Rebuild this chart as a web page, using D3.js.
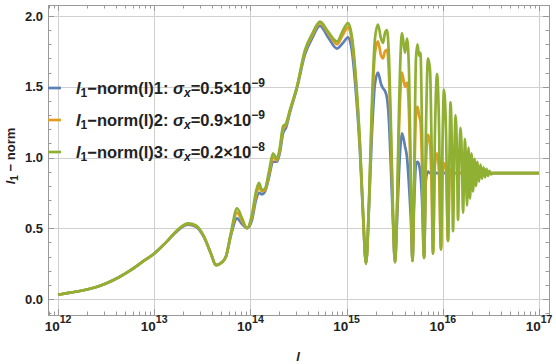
<!DOCTYPE html>
<html>
<head>
<meta charset="utf-8">
<script src="https://cdn.jsdelivr.net/npm/d3@7"></script>
<style>
  body { margin: 0; background: #fff; }
  text { font-family: "Liberation Sans", Arial, sans-serif; font-weight: bold; fill: #222; }
</style>
</head>
<body>
<div id="chart"></div>
<script>
// log10(l) sample positions
const logL = [
  12.000, 12.125, 12.249, 12.374, 12.499, 12.624, 12.748, 12.873, 12.998, 13.123,
  13.247, 13.351, 13.435, 13.518, 13.590, 13.642, 13.705, 13.746, 13.798, 13.861,
  13.913, 13.965, 14.017, 14.058, 14.089, 14.121, 14.152, 14.193, 14.235, 14.277,
  14.308, 14.339, 14.370, 14.412, 14.484, 14.568, 14.640, 14.723, 14.807, 14.900,
  14.963, 15.015, 15.056, 15.098, 15.139, 15.170, 15.202, 15.233, 15.264, 15.295,
  15.326, 15.358, 15.378, 15.399, 15.420, 15.441, 15.462, 15.482, 15.503, 15.524,
  15.545, 15.576, 15.607, 15.628, 15.649, 15.669, 15.685, 15.701, 15.721, 15.737,
  15.753, 15.768, 15.784, 15.805, 15.825, 15.846, 15.867, 15.883, 15.898, 15.919,
  15.940, 15.960, 15.981, 15.997, 16.012, 16.033, 16.054, 16.070, 16.080, 16.096,
  16.106, 16.120, 16.132, 16.148, 16.158, 16.172, 16.184, 16.200, 16.210, 16.231,
  16.252, 16.267, 16.283, 16.298, 16.314, 16.330, 16.345, 16.361, 16.376, 16.392,
  16.407, 16.423, 16.439, 16.454, 16.470, 16.485, 16.501, 16.522, 17.000
];

// l1-norm(l)1, sigma_x = 0.5e-9 (blue)
const norm1 = [
  0.03, 0.045, 0.06, 0.08, 0.11, 0.15, 0.20, 0.26, 0.32, 0.40,
  0.485, 0.525, 0.51, 0.435, 0.32, 0.24, 0.26, 0.30, 0.45, 0.57,
  0.53, 0.50, 0.56, 0.70, 0.75, 0.74, 0.76, 0.86, 0.97, 0.97,
  1.04, 1.17, 1.21, 1.32, 1.49, 1.73, 1.84, 1.93, 1.85, 1.77,
  1.81, 1.85, 1.75, 1.45, 1.04, 0.60, 0.25, 0.65, 1.18, 1.52,
  1.60, 1.52, 1.49, 1.47, 1.42, 1.25, 0.90, 0.55, 0.26, 0.55,
  0.90, 1.17, 1.08, 1.00, 0.80, 0.55, 0.27, 0.65, 0.95, 0.97,
  0.95, 0.88, 0.70, 0.29, 0.85, 0.90, 0.89, 0.89, 0.89, 0.89,
  0.89, 0.89, 0.89, 0.89, 0.89, 0.89, 0.89, 0.89, 0.89, 0.89,
  0.89, 0.89, 0.89, 0.89, 0.89, 0.89, 0.89, 0.89, 0.89, 0.89,
  0.89, 0.89, 0.89, 0.89, 0.89, 0.89, 0.89, 0.89, 0.89, 0.89,
  0.89, 0.89, 0.89, 0.89, 0.89, 0.89, 0.89, 0.89, 0.89
];

// l1-norm(l)2, sigma_x = 0.9e-9 (orange)
const norm2 = [
  0.03, 0.045, 0.06, 0.08, 0.11, 0.15, 0.20, 0.26, 0.32, 0.40,
  0.49, 0.53, 0.515, 0.44, 0.32, 0.24, 0.26, 0.30, 0.46, 0.61,
  0.55, 0.50, 0.58, 0.73, 0.79, 0.76, 0.77, 0.88, 1.00, 0.98,
  1.06, 1.20, 1.23, 1.33, 1.50, 1.75, 1.86, 1.95, 1.88, 1.80,
  1.87, 1.92, 1.82, 1.52, 1.08, 0.62, 0.25, 0.68, 1.32, 1.74,
  1.82, 1.72, 1.70, 1.75, 1.76, 1.58, 1.10, 0.60, 0.26, 0.62,
  1.20, 1.60, 1.50, 1.53, 1.30, 0.75, 0.27, 0.75, 1.30, 1.36,
  1.30, 1.25, 0.95, 0.29, 0.95, 1.16, 1.10, 0.80, 0.32, 0.95,
  1.03, 0.90, 0.35, 0.85, 0.96, 0.92, 0.41, 0.85, 0.92, 0.89,
  0.89, 0.89, 0.89, 0.89, 0.89, 0.89, 0.89, 0.89, 0.89, 0.89,
  0.89, 0.89, 0.89, 0.89, 0.89, 0.89, 0.89, 0.89, 0.89, 0.89,
  0.89, 0.89, 0.89, 0.89, 0.89, 0.89, 0.89, 0.89, 0.89
];

// l1-norm(l)3, sigma_x = 0.2e-8 (green)
const norm3 = [
  0.03, 0.045, 0.06, 0.08, 0.11, 0.15, 0.20, 0.26, 0.32, 0.40,
  0.49, 0.535, 0.52, 0.44, 0.32, 0.24, 0.26, 0.30, 0.47, 0.64,
  0.57, 0.50, 0.60, 0.76, 0.82, 0.77, 0.78, 0.90, 1.03, 0.99,
  1.08, 1.22, 1.24, 1.34, 1.50, 1.76, 1.87, 1.96, 1.89, 1.82,
  1.90, 1.95, 1.85, 1.55, 1.10, 0.63, 0.25, 0.70, 1.40, 1.84,
  1.94, 1.84, 1.81, 1.88, 1.90, 1.70, 1.20, 0.62, 0.26, 0.65,
  1.35, 1.88, 1.74, 1.84, 1.60, 0.80, 0.27, 0.80, 1.70, 1.80,
  1.72, 1.74, 1.20, 0.29, 1.20, 1.70, 1.62, 1.10, 0.32, 1.20,
  1.59, 1.25, 0.35, 1.10, 1.48, 1.20, 0.41, 1.05, 1.39, 1.00,
  0.48, 1.00, 1.30, 1.00, 0.56, 1.00, 1.21, 0.95, 0.61, 1.13,
  0.66, 1.07, 0.71, 1.03, 0.76, 0.99, 0.80, 0.97, 0.83, 0.95,
  0.85, 0.93, 0.86, 0.92, 0.87, 0.905, 0.88, 0.89, 0.89
];

const seriesNames = ["1", "2", "3"];
const sigmaMantissa = ["0.5", "0.9", "0.2"];
const sigmaExponent = ["\u22129", "\u22129", "\u22128"];
const colors = ["#5e81b5", "#e19c24", "#8fb032"];

const xTickExps = [12, 13, 14, 15, 16, 17];
const yTicks = [0, 0.5, 1, 1.5, 2];
const yTickLabels = ["0.0", "0.5", "1.0", "1.5", "2.0"];

const width = 556, height = 364;
const frame = { left: 48, right: 549, top: 5, bottom: 315 };

const xScale = d3.scaleLog().domain([1e12, 1e17]).range([58, 539]);
const yScale = d3.scaleLinear().domain([0, 2]).range([299, 16]);

const svg = d3.select("#chart").append("svg")
  .attr("width", width)
  .attr("height", height);

svg.append("rect").attr("width", width).attr("height", height).attr("fill", "#fff");

// grid
const grid = svg.append("g").attr("stroke", "#d0d0d0").attr("stroke-width", 1);
xTickExps.forEach(e => {
  const x = Math.round(xScale(Math.pow(10, e))) + 0.5;
  grid.append("line").attr("x1", x).attr("x2", x).attr("y1", frame.top).attr("y2", frame.bottom);
});
yTicks.forEach(v => {
  const y = Math.round(yScale(v)) + 0.5;
  grid.append("line").attr("x1", frame.left).attr("x2", frame.right).attr("y1", y).attr("y2", y);
});

// ticks on all four sides, pointing inward
const ticks = svg.append("g").attr("stroke", "#999").attr("stroke-width", 1);
const xMin = xScale.invert(frame.left), xMax = xScale.invert(frame.right);
for (let e = 11; e <= 17; e++) {
  for (let k = 1; k <= 9; k++) {
    const v = k * Math.pow(10, e);
    if (v < xMin || v > xMax) continue;
    const x = Math.round(xScale(v)) + 0.5;
    const len = k === 1 ? 6 : 3.5;
    ticks.append("line").attr("x1", x).attr("x2", x).attr("y1", frame.bottom).attr("y2", frame.bottom - len);
    ticks.append("line").attr("x1", x).attr("x2", x).attr("y1", frame.top).attr("y2", frame.top + len);
  }
}
for (let i = -1; i <= 20; i++) {
  const v = i / 10;
  const y = Math.round(yScale(v)) + 0.5;
  if (y > frame.bottom || y < frame.top) continue;
  const len = i % 5 === 0 ? 6 : 3.5;
  ticks.append("line").attr("x1", frame.left).attr("x2", frame.left + len).attr("y1", y).attr("y2", y);
  ticks.append("line").attr("x1", frame.right).attr("x2", frame.right - len).attr("y1", y).attr("y2", y);
}

// frame
svg.append("rect")
  .attr("x", frame.left + 0.5).attr("y", frame.top + 0.5)
  .attr("width", frame.right - frame.left).attr("height", frame.bottom - frame.top)
  .attr("fill", "none").attr("stroke", "#999").attr("stroke-width", 1);

// tick labels
yTicks.forEach((v, i) => {
  svg.append("text")
    .attr("x", 43).attr("y", yScale(v)).attr("dy", "0.36em")
    .attr("text-anchor", "end").attr("font-size", 13)
    .text(yTickLabels[i]);
});
xTickExps.forEach(e => {
  const t = svg.append("text")
    .attr("x", xScale(Math.pow(10, e))).attr("y", 331)
    .attr("text-anchor", "middle").attr("font-size", 13.5);
  t.append("tspan").text("10");
  t.append("tspan").attr("dy", -8).attr("font-size", 10.5).text(e);
});

// axis titles
svg.append("text")
  .attr("x", 298).attr("y", 361).attr("text-anchor", "middle")
  .attr("font-size", 13).attr("font-style", "italic").text("l");

const yt = svg.append("text")
  .attr("transform", "translate(15,156) rotate(-90)")
  .attr("text-anchor", "middle").attr("font-size", 13);
yt.append("tspan").attr("font-style", "italic").text("l");
yt.append("tspan").attr("dy", 3).attr("font-size", 10).text("1");
yt.append("tspan").attr("dy", -3).text(" \u2212 norm");

// curves
svg.append("clipPath").attr("id", "plotClip").append("rect")
  .attr("x", frame.left).attr("y", frame.top)
  .attr("width", frame.right - frame.left).attr("height", frame.bottom - frame.top);

const line = d3.line()
  .x(d => xScale(Math.pow(10, d[0])))
  .y(d => yScale(d[1]))
  .curve(d3.curveMonotoneX);

const plotG = svg.append("g").attr("clip-path", "url(#plotClip)");
[norm1, norm2, norm3].forEach((vals, i) => {
  plotG.append("path")
    .datum(logL.map((x, j) => [x, vals[j]]))
    .attr("d", line)
    .attr("fill", "none")
    .attr("stroke", colors[i])
    .attr("stroke-width", 2.7)
    .attr("stroke-linejoin", "round");
});

// legend
const legendY = [88, 120, 152];
seriesNames.forEach((name, i) => {
  const g = svg.append("g");
  g.append("line")
    .attr("x1", 48).attr("x2", 61).attr("y1", legendY[i]).attr("y2", legendY[i])
    .attr("stroke", colors[i]).attr("stroke-width", 2.7);
  const t = g.append("text").attr("x", 76).attr("y", legendY[i] + 6).attr("font-size", 16.5);
  t.append("tspan").attr("font-style", "italic").text("l");
  t.append("tspan").attr("dy", 3).attr("font-size", 12).text("1");
  t.append("tspan").attr("dy", -3).text("\u2212norm(l)" + name + ": ");
  t.append("tspan").attr("font-style", "italic").text("\u03c3");
  t.append("tspan").attr("dy", 3).attr("font-size", 12).attr("font-style", "italic").text("x");
  t.append("tspan").attr("dy", -3).text("=" + sigmaMantissa[i] + "\u00d710");
  t.append("tspan").attr("dy", -7).attr("font-size", 12).text(sigmaExponent[i]);
});
</script>
</body>
</html>
